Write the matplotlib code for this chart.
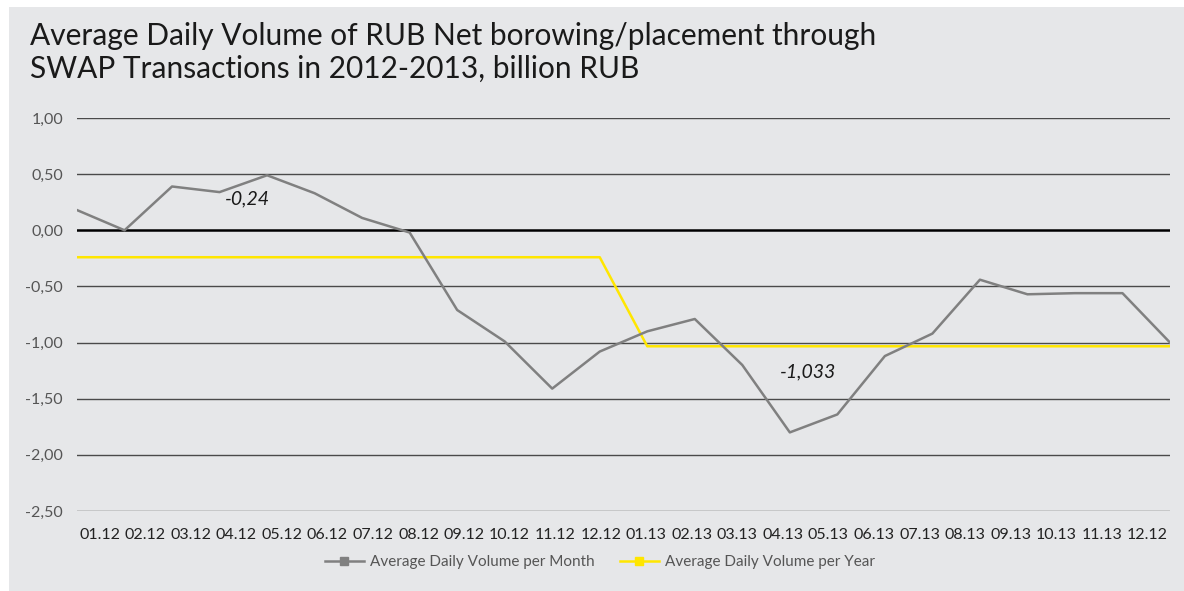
import matplotlib
matplotlib.use("Agg")
from matplotlib import pyplot as plt
from matplotlib.patches import Rectangle

plt.rcParams['font.family'] = ['Lato', 'DejaVu Sans']

months = ["01.12", "02.12", "03.12", "04.12", "05.12", "06.12", "07.12", "08.12",
          "09.12", "10.12", "11.12", "12.12", "01.13", "02.13", "03.13", "04.13",
          "05.13", "06.13", "07.13", "08.13", "09.13", "10.13", "11.13", "12.12"]
per_month = [0.18, 0.00, 0.39, 0.34, 0.49, 0.33, 0.11, -0.02,
             -0.71, -0.99, -1.41, -1.08, -0.90, -0.79, -1.20, -1.80,
             -1.64, -1.12, -0.92, -0.44, -0.57, -0.56, -0.56, -1.00]
year_avg = {2012: -0.24, 2013: -1.033}
per_year = [year_avg[2012]] * 12 + [year_avg[2013]] * 12
y_ticks = [1.0, 0.5, 0.0, -0.5, -1.0, -1.5, -2.0, -2.5]

BG = "#e6e7e9"
GRAY = "#808080"
YELLOW = "#ffe600"

fig = plt.figure(figsize=(11.84, 5.91), dpi=100)
fig.patch.set_facecolor("white")
fig.patches.append(Rectangle((9 / 1184, 0), 1, 1 - 7 / 591, transform=fig.transFigure,
                             facecolor=BG, edgecolor="none", zorder=-10))

ax = fig.add_axes([77 / 1184, 1 - 511 / 591, (1170 - 77) / 1184, (511 - 118) / 591])
ax.patch.set_alpha(0)

n = len(months)
x = list(range(n))
ax.set_xlim(0, n - 1)
ax.set_ylim(-2.5, 1.0)

for v in y_ticks:
    if v == 0:
        ax.axhline(v, color="black", lw=1.8, zorder=1)
    else:
        ax.axhline(v, color="#4a4a4a", lw=1.0, zorder=1)

ax.plot(x, per_year, color=YELLOW, lw=1.8, zorder=3)
ax.plot(x, per_month, color=GRAY, lw=1.8, zorder=4)

ax.text(3.58, 0.28, "-0,24", style="italic", fontsize=14, color="#1a1a1a",
        ha="center", va="center")
ax.text(15.38, -1.26, "-1,033", style="italic", fontsize=14, color="#1a1a1a",
        ha="center", va="center")

ax.set_yticks(y_ticks)
ax.set_yticklabels([f"{v:.2f}".replace(".", ",") for v in y_ticks])
# month labels sit in the middle of 24 equal slots across the plot width
ax.set_xticks([(i + 0.5) * (n - 1) / n for i in x])
ax.set_xticklabels(months)
ax.tick_params(axis="y", length=0, pad=10, labelsize=11.5, labelcolor="#555555")
ax.tick_params(axis="x", length=0, pad=12, labelsize=11.5, labelcolor="#222222")
for s in ax.spines.values():
    s.set_visible(False)

handles = [
    plt.Line2D([], [], color=GRAY, lw=1.8, marker="s", markersize=6),
    plt.Line2D([], [], color=YELLOW, lw=1.8, marker="s", markersize=6),
]
fig.legend(handles, ["Average Daily Volume per Month", "Average Daily Volume per Year"],
           loc="center", bbox_to_anchor=(600 / 1184, 1 - 562 / 591), ncol=2,
           frameon=False, fontsize=11, labelcolor="#555555", handlelength=2.6,
           handletextpad=0.4, columnspacing=1.6)

fig.text(30 / 1184, 1 - 22 / 591,
         "Average Daily Volume of RUB Net borowing/placement through\n"
         "SWAP Transactions in 2012-2013, billion RUB",
         fontsize=21.5, color="#1a1a1a", ha="left", va="top", linespacing=1.2)

fig.savefig("out.png", dpi=100, facecolor=fig.get_facecolor())
